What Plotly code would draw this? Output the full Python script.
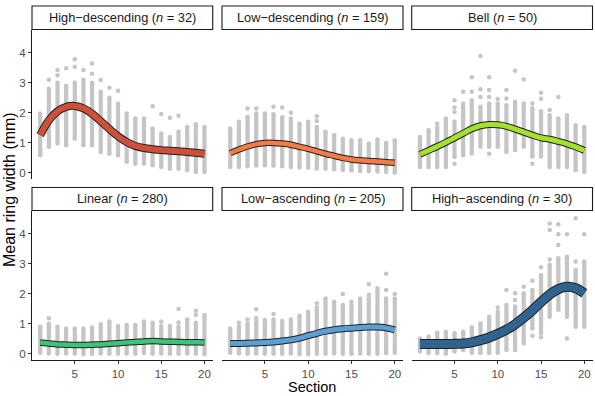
import plotly.graph_objects as go

W, H = 595, 396
sections = list(range(1, 21))

panel_names = ["High\u2212descending", "Low\u2212descending", "Bell",
               "Linear", "Low\u2212ascending", "High\u2212ascending"]
panel_n = [32, 159, 50, 280, 205, 30]
panel_colors = ["#cf503a", "#f47a46", "#a4e02e", "#3cc47a", "#5aa0d4", "#2f6490"]
ribbon_width = [6, 4.5, 5, 4.5, 5, 8]

# smoothed mean curves
curve_hd = [1.26, 1.75, 2.05, 2.2, 2.23, 2.15, 1.97, 1.72, 1.46, 1.22, 1.03, 0.9, 0.83, 0.79, 0.76, 0.74, 0.72, 0.7, 0.67, 0.64]
curve_ld = [0.66, 0.78, 0.88, 0.96, 1.0, 1.0, 0.98, 0.94, 0.87, 0.8, 0.72, 0.64, 0.57, 0.5, 0.45, 0.42, 0.4, 0.38, 0.36, 0.34]
curve_bell = [0.62, 0.75, 0.88, 1.02, 1.17, 1.32, 1.47, 1.57, 1.61, 1.6, 1.55, 1.46, 1.36, 1.26, 1.17, 1.12, 1.05, 0.97, 0.87, 0.75]
curve_lin = [0.37, 0.34, 0.31, 0.3, 0.29, 0.29, 0.3, 0.31, 0.33, 0.35, 0.37, 0.39, 0.41, 0.42, 0.41, 0.4, 0.39, 0.38, 0.38, 0.37]
curve_la = [0.34, 0.34, 0.35, 0.36, 0.37, 0.39, 0.42, 0.46, 0.52, 0.6, 0.68, 0.75, 0.8, 0.83, 0.85, 0.87, 0.89, 0.89, 0.86, 0.79]
curve_ha = [0.32, 0.32, 0.32, 0.32, 0.33, 0.34, 0.38, 0.45, 0.54, 0.66, 0.8, 0.98, 1.2, 1.45, 1.72, 1.97, 2.15, 2.23, 2.18, 2.01]

# dense range of individual ring widths per section
lo_hd = [0.59, 0.87, 0.98, 0.92, 1.15, 0.92, 0.92, 0.7, 0.64, 0.59, 0.37, 0.31, 0.31, 0.26, 0.2, 0.14, 0.14, 0.09, 0.03, 0.03]
hi_hd = [1.98, 2.8, 3.0, 2.9, 3.0, 3.1, 3.0, 2.7, 2.5, 2.3, 1.98, 1.81, 1.81, 1.48, 1.31, 1.2, 1.37, 1.53, 1.62, 1.53]
lo_ld = [0.2, 0.2, 0.22, 0.25, 0.26, 0.25, 0.22, 0.2, 0.18, 0.17, 0.15, 0.14, 0.12, 0.1, 0.08, 0.07, 0.06, 0.05, 0.03, 0.02]
hi_ld = [1.48, 1.7, 1.87, 1.98, 1.98, 1.95, 1.85, 1.7, 1.64, 1.7, 1.53, 1.37, 1.26, 1.14, 1.09, 1.09, 0.98, 1.11, 1.0, 1.09]
lo_bell = [0.2, 0.2, 0.2, 0.2, 0.53, 0.59, 0.65, 0.87, 0.87, 0.87, 0.7, 0.76, 0.87, 0.55, 0.55, 0.2, 0.2, 0.2, 0.09, 0.03]
hi_bell = [1.2, 1.42, 1.5, 1.81, 1.7, 2.2, 2.31, 2.2, 2.31, 2.31, 2.25, 2.37, 2.31, 2.15, 2.05, 1.92, 1.81, 1.81, 1.59, 1.53]
lo_lin = [0.03, 0.01, 0.0, 0.01, 0.0, -0.02, 0.0, 0.01, 0.0, 0.0, 0.01, 0.0, 0.02, 0.0, 0.01, 0.0, 0.0, 0.01, 0.0, -0.02]
hi_lin = [0.9, 1.0, 0.9, 0.84, 0.84, 0.84, 0.87, 0.88, 1.07, 0.92, 0.96, 0.96, 1.07, 1.03, 0.92, 0.92, 0.9, 1.03, 1.03, 1.29]
lo_la = [0.03, 0.01, 0.0, 0.01, 0.0, 0.0, 0.0, 0.01, -0.02, -0.02, 0.0, 0.0, 0.01, 0.0, 0.0, 0.01, 0.0, 0.0, 0.02, 0.03]
hi_la = [0.84, 0.9, 1.0, 1.07, 1.12, 1.07, 0.98, 1.14, 1.26, 1.4, 1.46, 1.84, 1.73, 1.62, 1.62, 1.84, 1.84, 2.07, 1.84, 1.84]
lo_ha = [0.07, 0.02, 0.02, 0.0, 0.07, 0.12, 0.02, 0.02, 0.02, 0.02, 0.12, 0.12, 0.34, 0.84, 0.68, 1.23, 1.46, 1.23, 0.9, 0.9]
hi_ha = [0.51, 0.57, 0.7, 0.73, 0.68, 0.73, 0.88, 1.01, 1.23, 1.29, 1.62, 1.57, 2.01, 2.12, 2.62, 2.96, 3.18, 3.23, 2.79, 3.07]

# isolated points outside the dense ranges
ox_hd = [2, 3, 3, 4, 5, 5, 6, 7, 7, 8, 9, 10, 14, 15, 16, 17]
oy_hd = [3.1, 3.42, 3.25, 3.48, 3.78, 3.53, 3.42, 3.64, 3.3, 3.09, 2.83, 2.73, 2.22, 1.96, 1.84, 1.9]
ox_ld = [3, 4, 6, 7, 8, 8, 11, 11]
oy_ld = [2.14, 2.14, 2.2, 2.18, 2.0, 1.81, 1.89, 1.73]
ox_bell = [3, 5, 5, 5, 6, 6, 7, 7, 7, 8, 8, 8, 9, 9, 9, 10, 11, 11, 12, 13, 14, 15, 15, 16, 17, 18, 5, 9, 14]
oy_bell = [1.64, 2.42, 2.18, 2.03, 2.7, 2.31, 3.18, 2.7, 2.42, 3.89, 2.78, 2.53, 3.18, 2.76, 2.53, 2.46, 2.76, 2.48, 3.4, 3.11, 2.31, 2.67, 2.47, 2.09, 2.53, 1.92, 0.31, 0.64, 0.31]
ox_lin = [2, 8, 15, 17, 17, 18, 19, 19]
oy_lin = [1.18, 0.98, 1.07, 1.49, 1.04, 1.14, 1.43, 1.29]
ox_la = [2, 3, 4, 4, 6, 6, 7, 11, 11, 14, 15, 17, 17, 18, 19, 19, 20]
oy_la = [1.03, 1.14, 1.48, 1.18, 1.32, 1.14, 1.09, 1.68, 1.54, 1.99, 1.73, 2.31, 1.96, 2.18, 2.66, 2.12, 1.99]
ox_ha = [10, 10, 11, 12, 12, 13, 14, 15, 16, 16, 16, 17, 17, 17, 18, 18, 19, 19, 20, 14, 15]
oy_ha = [1.54, 1.4, 2.12, 2.01, 1.79, 2.23, 2.43, 2.88, 4.34, 4.12, 3.14, 4.31, 3.98, 3.62, 3.98, 0.51, 4.51, 3.07, 3.98, 0.6, 0.55]

y_ticks = [0, 1, 2, 3, 4]
x_ticks = [5, 10, 15, 20]

curves = [curve_hd, curve_ld, curve_bell, curve_lin, curve_la, curve_ha]
los = [lo_hd, lo_ld, lo_bell, lo_lin, lo_la, lo_ha]
his = [hi_hd, hi_ld, hi_bell, hi_lin, hi_la, hi_ha]
oxs = [ox_hd, ox_ld, ox_bell, ox_lin, ox_la, ox_ha]
oys = [oy_hd, oy_ld, oy_bell, oy_lin, oy_la, oy_ha]

# layout geometry in pixels
col_px = [(32, 212.7), (222, 403), (411.7, 592.5)]
row_px = [(29.5, 179.3), (210.5, 360)]
strip_px = [(6, 29.5), (187.5, 210.5)]

FONT = "Liberation Sans, Arial, sans-serif"
GREY = "#c5c5c5"

fig = go.Figure()
layout = dict(width=W, height=H, margin=dict(l=0, r=0, t=0, b=0),
              paper_bgcolor="white", plot_bgcolor="white", showlegend=False,
              font=dict(family=FONT))
shapes, annotations = [], []

for i in range(6):
    r, c = divmod(i, 3)
    k = "" if i == 0 else str(i + 1)
    xa, ya = "x" + k, "y" + k
    x0, x1 = col_px[c]
    y0, y1 = row_px[r]
    layout["xaxis" + k] = dict(
        domain=[x0 / W, x1 / W], range=[0.05, 20.95], anchor=ya,
        showgrid=False, zeroline=False,
        showline=(r == 1), linecolor="#1a1a1a", linewidth=1,
        ticks="outside" if r == 1 else "", ticklen=3, tickcolor="#333333",
        tickvals=x_ticks, showticklabels=(r == 1),
        tickfont=dict(size=11.5, color="#4d4d4d", family=FONT))
    layout["yaxis" + k] = dict(
        domain=[1 - y1 / H, 1 - y0 / H], range=[-0.21, 4.77], anchor=xa,
        showgrid=False, zeroline=False,
        showline=(c == 0), linecolor="#1a1a1a", linewidth=1,
        ticks="outside" if c == 0 else "", ticklen=3, tickcolor="#333333",
        tickvals=y_ticks, showticklabels=(c == 0),
        tickfont=dict(size=11.5, color="#4d4d4d", family=FONT))

    # dense columns of points
    sx, sy = [], []
    for s, lo, hi in zip(sections, los[i], his[i]):
        sx += [s, s, None]
        sy += [lo, hi, None]
    fig.add_trace(go.Scatter(x=sx, y=sy, mode="lines", xaxis=xa, yaxis=ya,
                             line=dict(color=GREY, width=4.2), hoverinfo="skip"))
    fig.add_trace(go.Scatter(x=sections + sections + oxs[i], y=los[i] + his[i] + oys[i],
                             mode="markers", xaxis=xa, yaxis=ya,
                             marker=dict(color=GREY, size=4.5, line=dict(width=0))))
    # smoothed ribbon: dark outline + coloured fill
    fig.add_trace(go.Scatter(x=sections, y=curves[i], mode="lines", xaxis=xa, yaxis=ya,
                             line=dict(color="#1f1f1f", width=ribbon_width[i] + 2, shape="spline")))
    fig.add_trace(go.Scatter(x=sections, y=curves[i], mode="lines", xaxis=xa, yaxis=ya,
                             line=dict(color=panel_colors[i], width=ribbon_width[i], shape="spline")))

    # strip
    sy0, sy1 = strip_px[r]
    shapes.append(dict(type="rect", xref="paper", yref="paper",
                       x0=x0 / W, x1=x1 / W, y0=1 - sy1 / H, y1=1 - sy0 / H,
                       fillcolor="white", line=dict(color="#1a1a1a", width=1.1)))
    annotations.append(dict(xref="paper", yref="paper", x=(x0 + x1) / 2 / W,
                            y=1 - (sy0 + sy1) / 2 / H, showarrow=False,
                            text=f"{panel_names[i]} (<i>n</i> = {panel_n[i]})",
                            font=dict(size=12.8, color="#1a1a1a", family=FONT),
                            xanchor="center", yanchor="middle"))

annotations.append(dict(xref="paper", yref="paper", x=9 / W, y=1 - 190 / H,
                        text="Mean ring width (mm)", textangle=-90, showarrow=False,
                        font=dict(size=16, color="black", family=FONT),
                        xanchor="center", yanchor="middle"))
annotations.append(dict(xref="paper", yref="paper", x=312 / W, y=0,
                        text="Section", showarrow=False, borderpad=0,
                        font=dict(size=14.5, color="black", family=FONT),
                        xanchor="center", yanchor="bottom"))

layout["shapes"] = shapes
layout["annotations"] = annotations
fig.update_layout(**layout)
fig.write_html("out.html")
